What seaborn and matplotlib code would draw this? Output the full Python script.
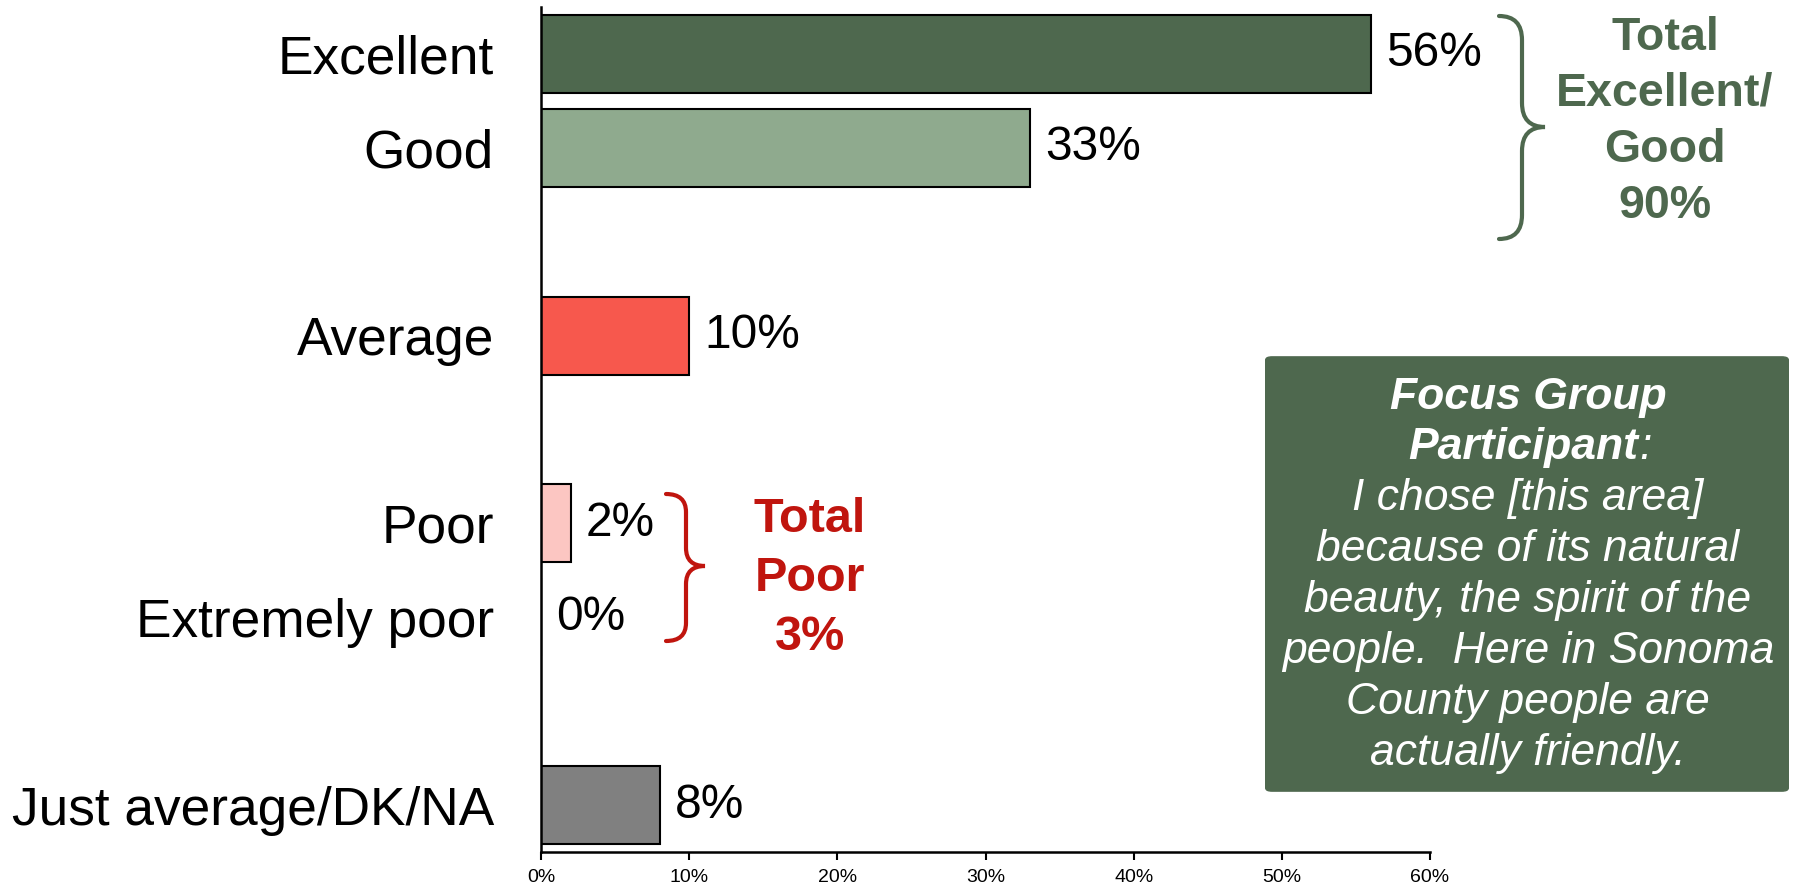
import matplotlib
matplotlib.use("Agg")
import matplotlib.pyplot as plt
import seaborn as sns
import pandas as pd
from matplotlib.path import Path
from matplotlib.patches import PathPatch, FancyBboxPatch

# ---- data ----
categories = ["Excellent", "Good", "Average", "Poor", "Extremely poor", "Just average/DK/NA"]
values = [56, 33, 10, 2, 0, 8]
slot_order = ["Excellent", "Good", " ", "Average", "  ", "Poor", "Extremely poor", "   ", "Just average/DK/NA"]
bar_colors = ["#4E684E", "#8FAA8E", "#F7584D", "#FCC6C2", "#FFFFFF", "#808080"]
x_ticks = [0, 10, 20, 30, 40, 50, 60]
x_tick_labels = ["0%", "10%", "20%", "30%", "40%", "50%", "60%"]
green_lines = ["Total", "Excellent/", "Good", "90%"]
red_lines = ["Total", "Poor", "3%"]
quote_head = ["Focus Group", "Participant"]
quote_lines = ["I chose [this area]", "because of its natural", "beauty, the spirit of the",
               "people.  Here in Sonoma", "County people are", "actually friendly."]

GREEN = "#4E684E"
RED = "#C0150E"

sns.set_theme(style="white")
plt.rcParams["font.family"] = ["Liberation Sans", "DejaVu Sans"]

W, H = 1801, 891
fig = plt.figure(figsize=(W / 100, H / 100), dpi=100)
ax = fig.add_axes([541 / W, 1 - 852 / H, (1430 - 541) / W, (852 - 7) / H])

df = pd.DataFrame({"cat": categories, "val": values})
sns.barplot(data=df, x="val", y="cat", hue="cat", order=slot_order,
            hue_order=categories, palette=dict(zip(categories, bar_colors)),
            saturation=1, width=0.83, edgecolor="black", linewidth=1.5,
            legend=False, ax=ax)

for cont in ax.containers:
    ax.bar_label(cont, labels=[f"{int(v)}%" for v in cont.datavalues],
                 padding=11, fontsize=34.5, color="black")

ax.set_xlim(0, 60)
ax.set_ylim(8.5, -0.5)
ax.set_xticks(x_ticks)
ax.set_xticklabels(x_tick_labels, fontsize=14)
ax.set_xlabel("")
ax.set_ylabel("")
ax.tick_params(axis="y", length=0, pad=34, labelsize=38.3, labelcolor="black")
ax.tick_params(axis="x", direction="out", length=6, width=1.5, color="black", pad=6,
               bottom=True, labelcolor="black")
for s in ["top", "right"]:
    ax.spines[s].set_visible(False)
for s in ["left", "bottom"]:
    ax.spines[s].set_color("black")
    ax.spines[s].set_linewidth(1.8)


def px(x, y):
    return (x / W, 1 - y / H)


def brace(x0, xm, x1, top, tip, bot, r, color, lw):
    verts = [px(x0, top), px(xm, top), px(xm, top + r),
             px(xm, tip - r), px(xm, tip), px(x1, tip),
             px(xm, tip), px(xm, tip + r),
             px(xm, bot - r), px(xm, bot), px(x0, bot)]
    codes = [Path.MOVETO, Path.CURVE3, Path.CURVE3,
             Path.LINETO, Path.CURVE3, Path.CURVE3,
             Path.CURVE3, Path.CURVE3,
             Path.LINETO, Path.CURVE3, Path.CURVE3]
    fig.add_artist(PathPatch(Path(verts, codes), fill=False, edgecolor=color,
                             linewidth=lw, transform=fig.transFigure, capstyle="round"))


brace(1499, 1522, 1545, 16, 127, 239, 24, GREEN, 3)
brace(666, 686, 705, 494, 566, 641, 18, RED, 3)

for i, line in enumerate(green_lines):
    fig.text(*px(1665, 50 + i * 56), line, ha="center", va="baseline", fontsize=33.5,
             fontweight="bold", color=GREEN)
for i, line in enumerate(red_lines):
    fig.text(*px(810, 532 + i * 59), line, ha="center", va="baseline", fontsize=35,
             fontweight="bold", color=RED)

# quote box
bx0, by0, bx1, by1 = 1266, 354, 1788, 794
box = FancyBboxPatch(px(bx0 + 6, by1 - 6), (bx1 - bx0 - 12) / W, (by1 - by0 - 12) / H,
                     boxstyle="round,pad=0.0035", transform=fig.transFigure,
                     facecolor=GREEN, edgecolor=GREEN)
fig.add_artist(box)

cx = 1528
ys = [397 + i * 50.9 for i in range(8)]
fig.text(*px(cx, ys[0]), quote_head[0], ha="center", va="center", fontsize=32,
         fontweight="bold", style="italic", color="white")
t = fig.text(*px(cx - 5, ys[1]), quote_head[1], ha="center", va="center", fontsize=32,
             fontweight="bold", style="italic", color="white")
for i, line in enumerate(quote_lines):
    fig.text(*px(cx, ys[i + 2]), line, ha="center", va="center", fontsize=32,
             style="italic", color="white")

fig.canvas.draw()
bb = t.get_window_extent(renderer=fig.canvas.get_renderer())
fig.text(bb.x1 / W + 1 / W, px(0, ys[1])[1], ":", ha="left", va="center", fontsize=32,
         style="italic", color="white")

fig.savefig("out.png", dpi=100, facecolor="white")
